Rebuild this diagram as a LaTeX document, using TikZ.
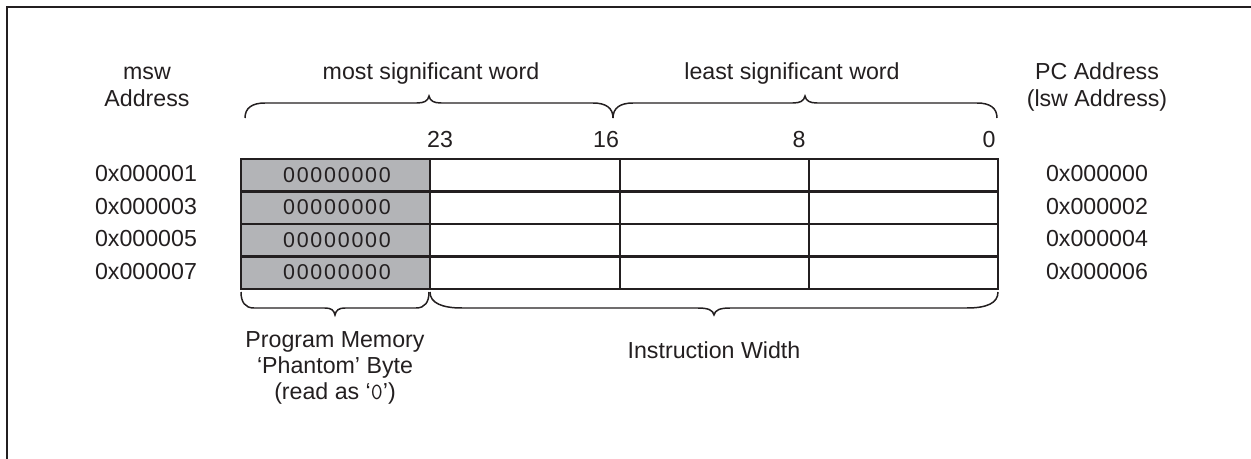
\documentclass[tikz,border=0pt]{standalone}
\usepackage{fontspec}
\setmainfont{Liberation Sans}
\definecolor{ink}{HTML}{231F20}
\definecolor{phantom}{HTML}{B3B4B7}
\newcommand\phzero{0\kern1.0pt}
\newcommand\phbyte{\fontsize{12.2}{14}\selectfont\phzero\phzero\phzero\phzero\phzero\phzero\phzero 0}
\begin{document}
\begin{tikzpicture}[x=0.02cm,y=-0.02cm,
  every node/.style={text=ink, font=\fontsize{13.2}{15.8}\selectfont, inner sep=0pt},
  lbl/.style={anchor=base},
  cellline/.style={draw=ink, line width=1.15pt},
  bracepath/.style={draw=ink, line width=0.85pt}]
\useasboundingbox (0,0) rectangle (1251,459);
% frame (only top and left edges visible)
\draw[ink, line width=1.15pt] (7,459) -- (7,7) -- (1251,7);

% column headings
\node[lbl] (msw1) at (147,80) {msw};
\node[lbl] (msw2) at (147,107) {Address};
\node[lbl] (pc1) at (1097,80) {PC Address};
\node[lbl] (pc2) at (1097,107) {(lsw Address)};
\node[lbl] (mostw) at (431,80) {most significant word};
\node[lbl] (leastw) at (792,80) {least significant word};

% top braces
\draw[bracepath] (245,118) .. controls (245,108) and (252,103) .. (265,103) -- (417,103)
  .. controls (424,103) and (428,101) .. (429,96) .. controls (430,101) and (434,103) .. (441,103)
  -- (593,103) .. controls (606,103) and (613,108) .. (613,118);
\draw[bracepath] (613,118) .. controls (613,108) and (620,103) .. (633,103) -- (793,103)
  .. controls (800,103) and (804,101) .. (805,96) .. controls (806,101) and (810,103) .. (817,103)
  -- (977,103) .. controls (990,103) and (997,108) .. (997,118);

% bit numbers
\node[lbl] (b23) at (440,148) {23};
\node[lbl] (b16) at (606,148) {16};
\node[lbl] (b8) at (799,148) {8};
\node[lbl] (b0) at (989,148) {0};

% table
\fill[phantom] (241,159) rectangle (430,289);
\foreach \y in {191.5,224,256.5} \draw[cellline] (241,\y) -- (998,\y);
\foreach \x in {430,620,809} \draw[cellline] (\x,159) -- (\x,289);
\draw[cellline] (241,159) rectangle (998,289);

\node (ph1) at (337,175) {\phbyte};
\node (ph2) at (337,207.5) {\phbyte};
\node (ph3) at (337,240) {\phbyte};
\node (ph4) at (337,272.5) {\phbyte};

% address labels
\node[lbl] (a1) at (146,182) {0x000001};
\node[lbl] (a3) at (146,214.5) {0x000003};
\node[lbl] (a5) at (146,247) {0x000005};
\node[lbl] (a7) at (146,279.5) {0x000007};
\node[lbl] (p0) at (1097,182) {0x000000};
\node[lbl] (p2) at (1097,214.5) {0x000002};
\node[lbl] (p4) at (1097,247) {0x000004};
\node[lbl] (p6) at (1097,279.5) {0x000006};

% bottom braces
\draw[bracepath] (241,292) .. controls (241,302) and (245,308) .. (254,308) -- (325,308)
  .. controls (331,308) and (334,310) .. (335,315) .. controls (336,310) and (339,308) .. (345,308)
  -- (416,308) .. controls (425,308) and (429,302) .. (429,292);
\draw[bracepath] (430,292) .. controls (430,303) and (442,308) .. (462,308) -- (698,308)
  .. controls (708,308) and (713,310) .. (714,315) .. controls (715,310) and (720,308) .. (730,308)
  -- (967,308) .. controls (987,308) and (998,303) .. (998,292);

% bottom labels
\node[lbl] (pm1) at (335,347) {Program Memory};
\node[lbl] (pm2) at (335,373) {‘Phantom’ Byte};
\node[lbl] (pm3) at (335,399) {(read as ‘{\ttfamily 0}’)};
\node[lbl] (iw) at (714,358) {Instruction Width};
\end{tikzpicture}
\end{document}
